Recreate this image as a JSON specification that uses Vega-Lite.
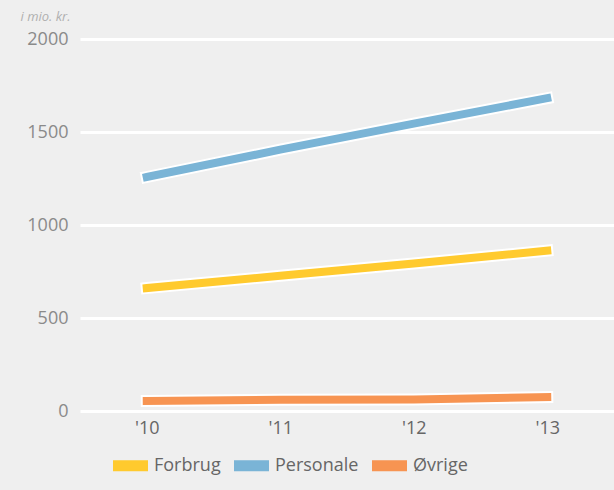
{
  "$schema": "https://vega.github.io/schema/vega-lite/v6.json",
  "width": 534,
  "height": 372,
  "autosize": {"type": "none"},
  "padding": {"left": 80, "top": 39, "right": 0, "bottom": 79},
  "background": "#efefef",
  "config": {
    "view": {"stroke": null},
    "font": "Open Sans"
  },
  "data": {
    "values": [
      {"year": "'10", "series": "Forbrug", "value": 661},
      {"year": "'11", "series": "Forbrug", "value": 727},
      {"year": "'12", "series": "Forbrug", "value": 793},
      {"year": "'13", "series": "Forbrug", "value": 862},
      {"year": "'10", "series": "Personale", "value": 1258},
      {"year": "'11", "series": "Personale", "value": 1405},
      {"year": "'12", "series": "Personale", "value": 1545},
      {"year": "'13", "series": "Personale", "value": 1682},
      {"year": "'10", "series": "Øvrige", "value": 54},
      {"year": "'11", "series": "Øvrige", "value": 60},
      {"year": "'12", "series": "Øvrige", "value": 62},
      {"year": "'13", "series": "Øvrige", "value": 75}
    ]
  },
  "encoding": {
    "x": {
      "field": "year",
      "type": "ordinal",
      "scale": {"type": "point", "padding": 0.5},
      "axis": {
        "title": null,
        "labelAngle": 0,
        "domain": false,
        "ticks": false,
        "grid": false,
        "labelFontSize": 18,
        "labelColor": "#666666",
        "labelPadding": 8
      }
    },
    "y": {
      "field": "value",
      "type": "quantitative",
      "scale": {"domain": [0, 2000]},
      "axis": {
        "values": [0, 500, 1000, 1500, 2000],
        "format": "d",
        "domain": false,
        "ticks": false,
        "gridColor": "white",
        "gridWidth": 3,
        "labelFontSize": 18,
        "labelColor": "#8a8a8a",
        "labelPadding": 12,
        "title": "i mio. kr.",
        "titleAngle": 0,
        "titleAlign": "left",
        "titleBaseline": "bottom",
        "titleX": -60,
        "titleY": -16,
        "titleFontSize": 13,
        "titleFontStyle": "italic",
        "titleFontWeight": "normal",
        "titleColor": "#b0b0b0"
      }
    },
    "detail": {"field": "series"}
  },
  "layer": [
    {
      "mark": {"type": "line", "color": "white", "strokeWidth": 12, "strokeCap": "square"}
    },
    {
      "mark": {"type": "line", "strokeWidth": 8, "strokeCap": "square"},
      "encoding": {
        "color": {
          "field": "series",
          "type": "nominal",
          "scale": {
            "domain": ["Forbrug", "Personale", "Øvrige"],
            "range": ["#ffca2e", "#7ab4d6", "#f79452"]
          },
          "legend": {
            "orient": "none",
            "direction": "horizontal",
            "legendX": 33,
            "legendY": 409,
            "title": null,
            "symbolType": "M-1,-0.27H1V0.27H-1Z",
            "symbolSize": 1089,
            "labelFontSize": 18,
            "labelColor": "#666666",
            "labelOffset": 6,
            "columnPadding": 10,
            "encode": {
              "symbols": {
                "update": {
                  "fill": {"scale": "color", "field": "value"},
                  "fillOpacity": {"value": 1},
                  "stroke": {"value": "white"},
                  "strokeWidth": {"value": 2},
                  "opacity": {"value": 1}
                }
              }
            }
          }
        }
      }
    }
  ]
}
